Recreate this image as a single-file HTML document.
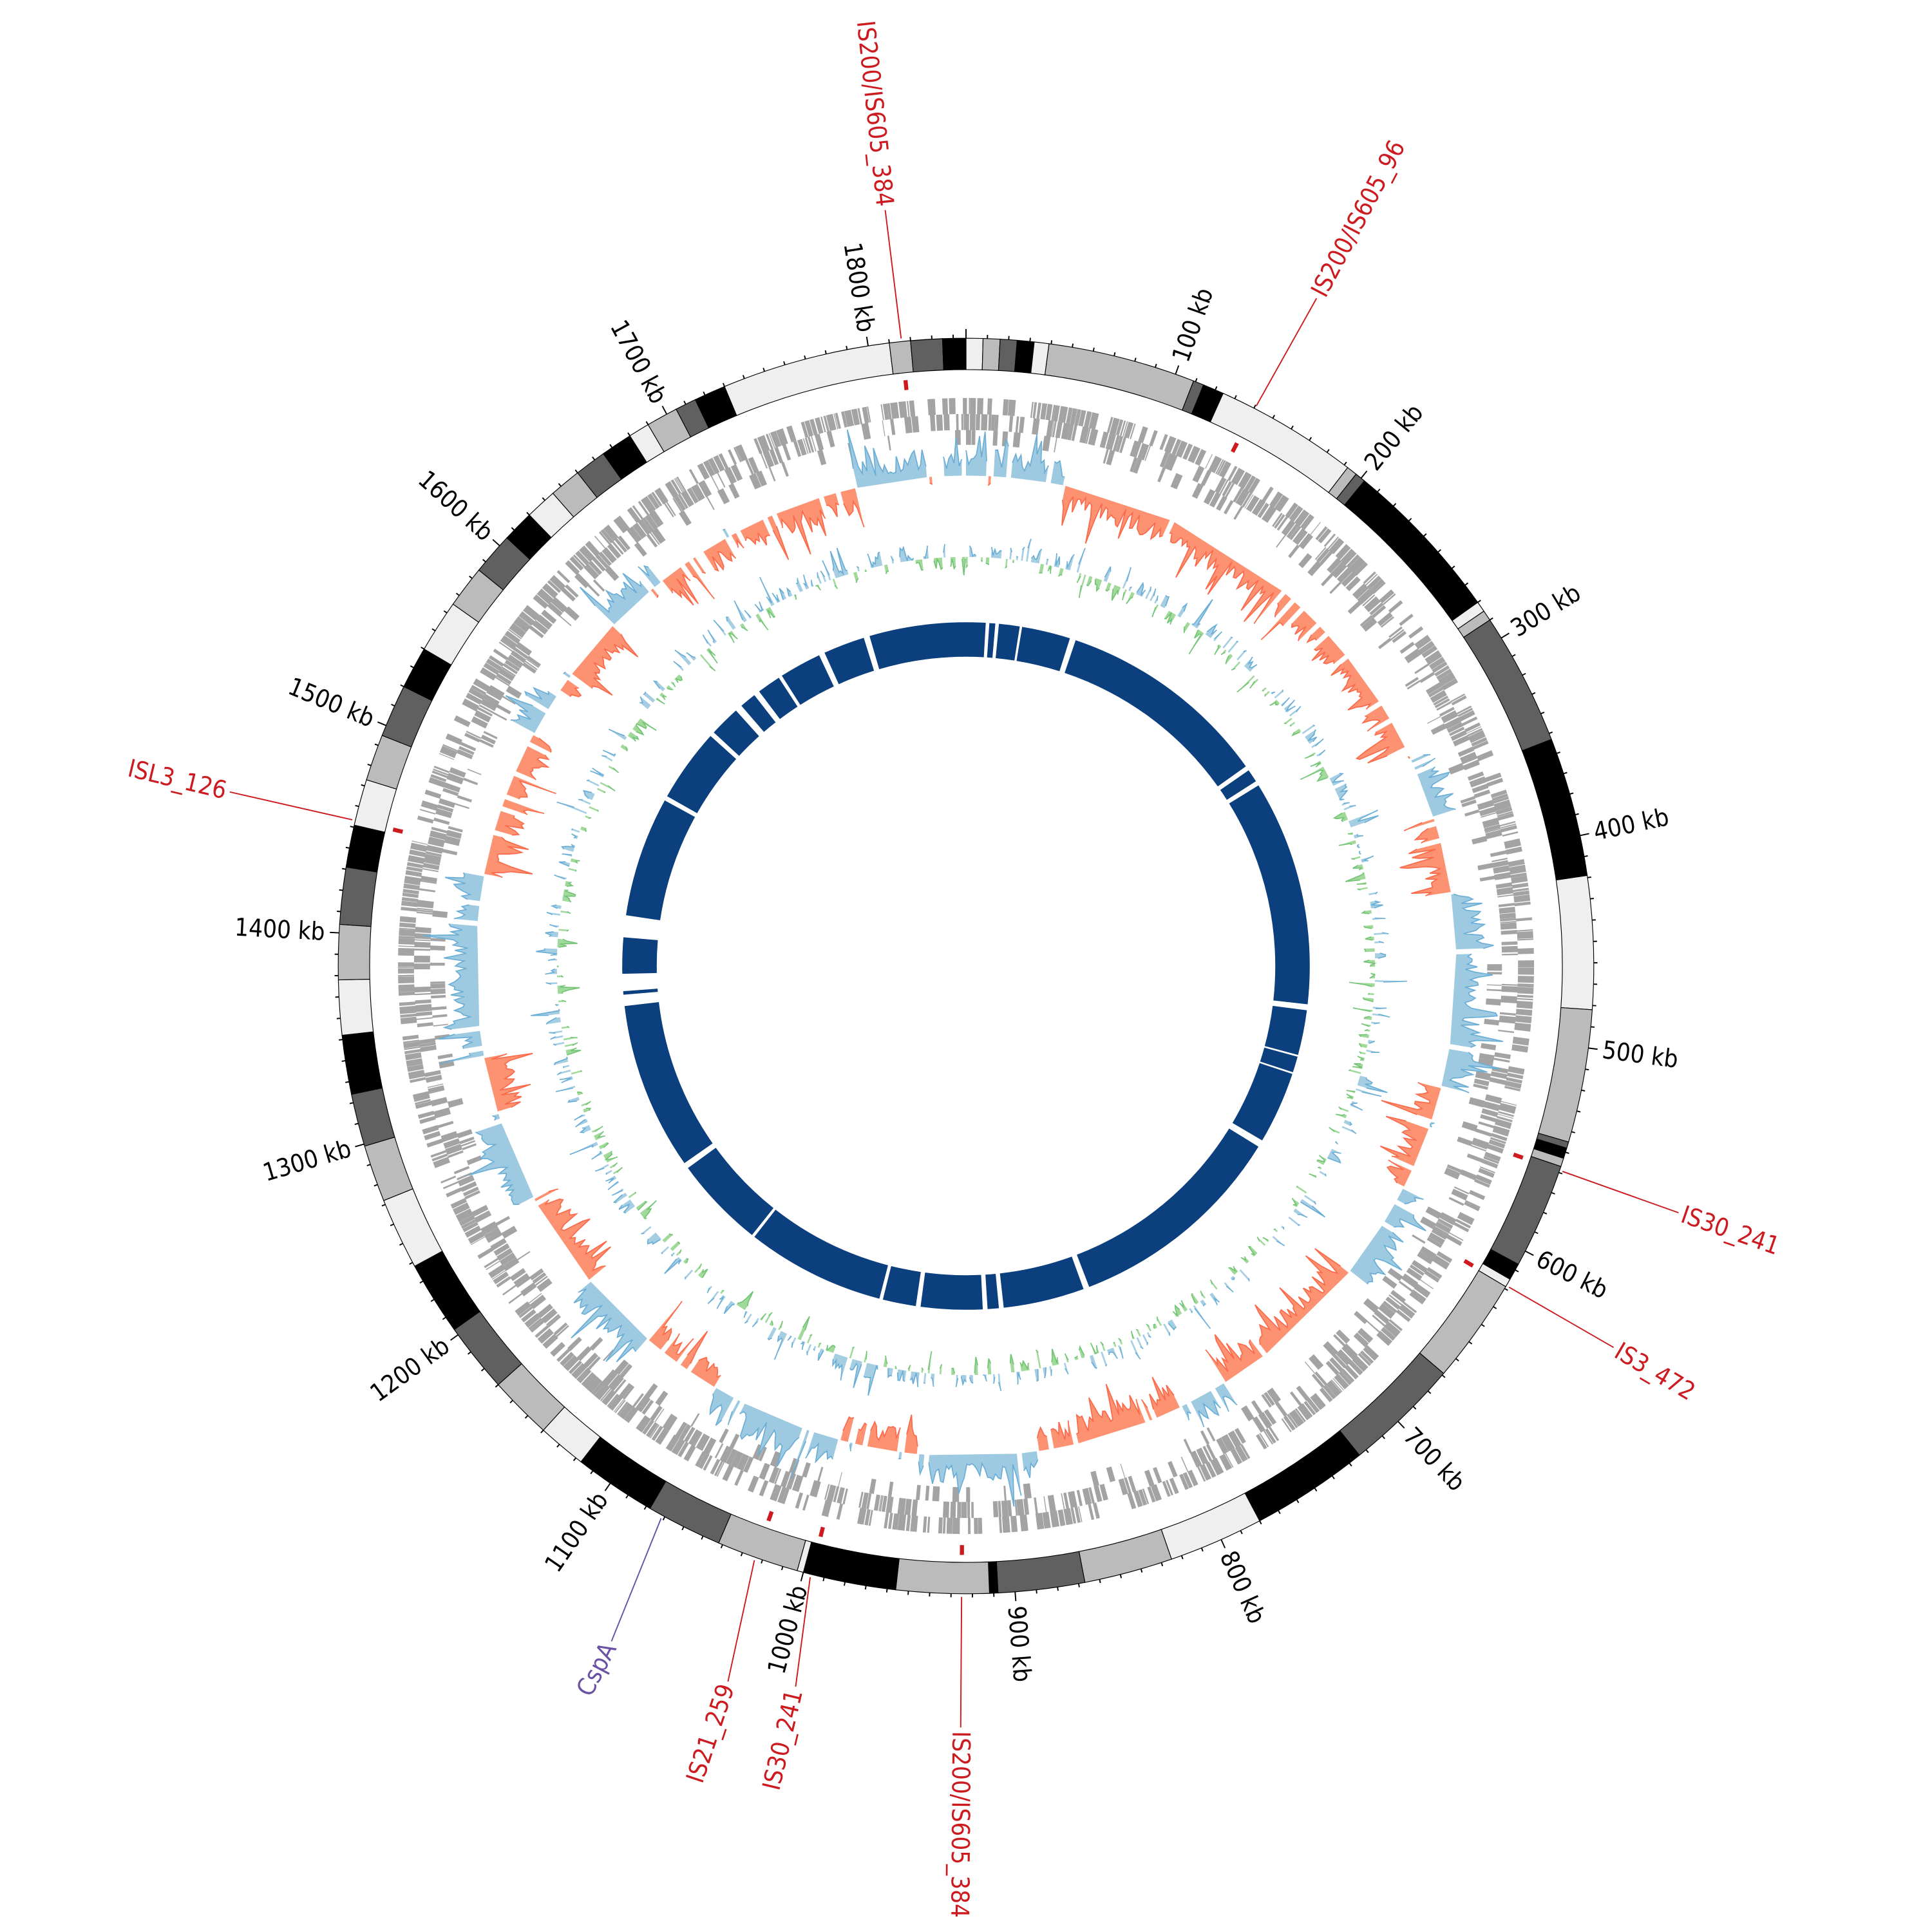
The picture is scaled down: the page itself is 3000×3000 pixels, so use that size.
<!DOCTYPE html>
<html><head><meta charset="utf-8"><style>
html,body{margin:0;padding:0;background:#fff;width:3000px;height:3000px;overflow:hidden}
svg{display:block}
text{font-family:"DejaVu Sans Condensed","Liberation Sans Narrow","Liberation Sans",sans-serif;font-size:20px}
</style></head><body>
<svg id="s" width="3000" height="3000" viewBox="0 0 1568 1568" xmlns="http://www.w3.org/2000/svg">
<g id="tracks"></g>
<g id="tk"></g>
<g id="kb" fill="#000">
<text>100 kb</text><text>200 kb</text><text>300 kb</text><text>400 kb</text><text>500 kb</text><text>600 kb</text><text>700 kb</text><text>800 kb</text><text>900 kb</text><text>1000 kb</text><text>1100 kb</text><text>1200 kb</text><text>1300 kb</text><text>1400 kb</text><text>1500 kb</text><text>1600 kb</text><text>1700 kb</text><text>1800 kb</text>
</g>
<g id="is" fill="#cc1a1f">
<text>IS200/IS605_384</text><text>IS200/IS605_96</text><text>IS30_241</text><text>IS3_472</text><text>IS200/IS605_384</text><text>IS30_241</text><text>IS21_259</text><text fill="#6a51a3">CspA</text><text>ISL3_126</text>
</g>
</svg>
<script>
const C=784,T=1846,K=360/T;
const NS="http://www.w3.org/2000/svg";
const tr=document.getElementById('tracks'),tk=document.getElementById('tk');
function P(r,t){const a=t*Math.PI/180;return [C+r*Math.sin(a),C-r*Math.cos(a)];}
function f(p){return p[0].toFixed(2)+","+p[1].toFixed(2);}
function arc(r1,r2,a1,a2){const l=(a2-a1)>180?1:0;return "M"+f(P(r2,a1))+"A"+r2+","+r2+" 0 "+l+" 1 "+f(P(r2,a2))+"L"+f(P(r1,a2))+"A"+r1+","+r1+" 0 "+l+" 0 "+f(P(r1,a1))+"Z";}
function add(par,tag,at){const e=document.createElementNS(NS,tag);for(const k in at)e.setAttribute(k,at[k]);par.appendChild(e);return e;}
let seed=12345;function rnd(){seed=(seed*16807)%2147483647;return seed/2147483647;}
const cols={w:"#efefef",l:"#bbbbbb",d:"#606060",b:"#000000"};
const seg=[[0,8,'w'],[8,16,'l'],[16,24,'d'],[24,32,'b'],[32,39,'w'],[39,109,'l'],[109,114,'d'],[114,124,'b'],[124,192,'w'],[192,197,'l'],[197,202,'d'],[202,280,'b'],[280,285,'w'],[285,290,'l'],[290,353,'d'],[353,419,'b'],[419,482,'w'],[482,545,'l'],[545,548,'d'],[548,553,'b'],[553,557,'l'],[557,607,'d'],[607,615,'b'],[615,619,'w'],[619,669,'l'],[669,724,'d'],[724,780,'b'],[780,825,'w'],[825,867,'l'],[867,908,'d'],[908,912,'b'],[912,956,'l'],[956,1000,'b'],[1000,1003,'w'],[1003,1042,'l'],[1042,1078,'d'],[1078,1117,'b'],[1117,1140,'w'],[1140,1170,'l'],[1170,1203,'d'],[1203,1238,'b'],[1238,1272,'w'],[1272,1299,'l'],[1299,1324,'d'],[1324,1352,'b'],[1352,1378,'w'],[1378,1404,'l'],[1404,1431,'d'],[1431,1451,'b'],[1451,1473,'w'],[1473,1495,'l'],[1495,1520,'d'],[1520,1540,'b'],[1540,1565,'w'],[1565,1585,'l'],[1585,1605,'d'],[1605,1620,'b'],[1620,1635,'w'],[1635,1650,'l'],[1650,1665,'d'],[1665,1680,'b'],[1680,1690,'w'],[1690,1705,'l'],[1705,1715,'d'],[1715,1730,'b'],[1730,1810,'w'],[1810,1820,'l'],[1820,1835,'d'],[1835,1846,'b']];
for(const s of seg)add(tr,'path',{d:arc(484,509.5,s[0]*K,s[1]*K),fill:cols[s[2]],stroke:"#000","stroke-width":0.6});
let td="";
for(let k=0;k<T;k+=10){const maj=k%100===0;const a=k*K;td+="M"+f(P(509.5,a))+"L"+f(P(maj?517:512.5,a));}
add(tk,'path',{d:td,stroke:"#000","stroke-width":1,fill:"none"});
function place(el,t,r){const p=P(r,t);let rot,anc;if(t>0.5&&t<180.5){rot=t-90;anc="start";}else{rot=t+90;anc="end";}
el.setAttribute('text-anchor',anc);el.setAttribute('dominant-baseline','central');el.setAttribute('transform',`translate(${p[0].toFixed(1)},${p[1].toFixed(1)}) rotate(${rot.toFixed(2)})`);}
const kbs=document.querySelectorAll('#kb text');kbs.forEach((e,i)=>place(e,(i+1)*100*K,521));
const isl=[[353.9,620,354.1],[27.7,615,27.4],[109.1,615,109],[120.5,613,120.6],[180.4,621,180.4],[193.3,604,194.3],[198.4,615,199.6],[207.7,622,208.9],[283.3,617,283.4]];
const ise=document.querySelectorAll('#is text');
isl.forEach((v,i)=>{place(ise[i],v[0],v[1]);const c=i==7?"#6a51a3":"#cc1a1f";
add(tk,'line',{x1:P(v[1]-3,v[0])[0],y1:P(v[1]-3,v[0])[1],x2:P(512,v[2])[0],y2:P(512,v[2])[1],stroke:c,"stroke-width":1});});
for(const a of [354.1,27.4,109,120.6,180.4,194.3,199.6,283.4])add(tr,'path',{d:arc(470,478,a-0.2,a+0.2),fill:"#cc1a1f"});
let gd="";
const rows=[[448,461,0.7],[435,448,0.6],[423,435,0.25]];
for(const rw of rows){let x=0;while(x<T){const len=0.4+rnd()*3.5;if(rnd()<rw[2]){gd+=arc(rw[0],rw[1],x*K,(x+len)*K);}x+=len+rnd()*0.8;}}
add(tr,'path',{d:gd,fill:"#a3a3a3"});
const reg=[[0,60,1],[60,100,-1],[100,330,-1],[330,372,1],[372,420,-1],[420,535,1],[535,600,-1],[600,660,1],[660,760,-1],[760,790,1],[790,880,-1],[880,950,1],[950,1000,-1],[1000,1080,1],[1080,1130,-1],[1130,1180,1],[1180,1240,-1],[1240,1290,1],[1290,1330,-1],[1330,1440,1],[1440,1530,-1],[1530,1560,1],[1560,1610,-1],[1610,1650,1],[1650,1700,-1],[1700,1780,-1],[1780,1846,1]];
function sgnAt(k){for(const r of reg)if(k>=r[0]&&k<r[1])return r[2];return 1;}
function areaTrack(base,step,valfn,posF,posS,negF,negS){
 let pf="",nf="",ps="",ns="";
 const N=Math.floor(T/step);const vals=[];for(let i=0;i<=N;i++)vals.push(valfn(i*step));
 let i=0;
 while(i<N){const s=vals[i]>=0?1:-1;let j=i;const pts=[];while(j<=N&&((vals[j]>=0?1:-1)===s)){pts.push([j*step,vals[j]]);j++;}
  const a0=i*step*K;
  let d="M"+f(P(base,a0));let ln="";
  pts.forEach((p,q)=>{const pt=f(P(base+p[1],p[0]*K));d+="L"+pt;ln+=(q?"L":"M")+pt;});
  d+="L"+f(P(base,(pts[pts.length-1][0])*K))+"Z";
  if(s>0){pf+=d;ps+=ln;}else{nf+=d;ns+=ln;}
  i=j;}
 add(tr,'path',{d:pf,fill:posF});add(tr,'path',{d:nf,fill:negF});
 add(tr,'path',{d:ps,fill:"none",stroke:posS,"stroke-width":0.9});add(tr,'path',{d:ns,fill:"none",stroke:negS,"stroke-width":0.9});
}
areaTrack(398,1.5,k=>{const s=sgnAt(k);let v=(5+rnd()*16+(rnd()<0.15?rnd()*25:0));if(rnd()<0.06)return -s*rnd()*8;return s*v*(s>0?1.1:1);},"#9ecae1","#6baed6","#fc9272","#fb6a4a");
areaTrack(332,1.2,k=>{let v=(rnd()-0.45)*22;if(rnd()<0.12)v*=2.2;return v;},"#a6cee3","#6baed6","#a1d99b","#74c476");
const gaps=[[3.3,0.6],[4.9,0.6],[9,0.4],[17.6,1],[54.5,0.8],[57.5,0.8],[96.4,1],[105,0.3],[108,0.3],[120.5,1.2],[159,1],[173.7,0.8],[176.4,0.8],[187.6,0.8],[194,0.6],[218,0.5],[234,1],[263.3,5.4],[274.8,3.7],[298.8,0.8],[312,0.8],[318,1.2],[322,1],[327,0.6],[334.7,1],[342.7,1]];
gaps.sort((a,b)=>a[0]-b[0]);
let st=0,bd="";
for(const g of gaps){const e=g[0];if(e>st)bd+=arc(251,279,st,e);st=e+g[1];}
bd+=arc(251,279,st,360);
add(tr,'path',{d:bd,fill:"#0b3f7d"});
add(tr,'path',{d:arc(251,279,265.2,265.8),fill:"#0b3f7d"});
add(tr,'path',{d:arc(251,279,269.3,269.7),fill:"#0b3f7d"});
</script>
</body></html>
